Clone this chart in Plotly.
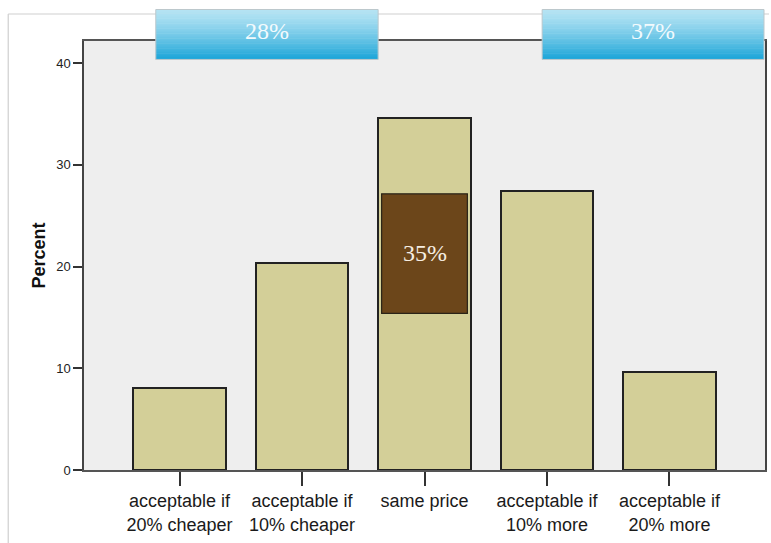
import plotly.graph_objects as go

# Price acceptability survey: share of respondents per answer
categories = ["acceptable if<br>20% cheaper", "acceptable if<br>10% cheaper", "same price",
              "acceptable if<br>10% more", "acceptable if<br>20% more"]
percent = [8.1, 20.3, 34.6, 27.4, 9.6]
y_ticks = [0, 10, 20, 30, 40]

cheaper_share = percent[0] + percent[1]
same_share = percent[2]
more_share = percent[3] + percent[4]

W, H = 771, 543
L, R, T, B = 84, 4, 41, 73
pw, ph = W - L - R, H - T - B


def px_x(x):
    return (x - L) / pw


def px_y(y):
    return (H - B - y) / ph


xs = list(range(len(categories)))

fig = go.Figure()
fig.add_trace(go.Bar(
    x=xs, y=percent, width=0.757,
    marker=dict(color="#D3CF98", line=dict(color="#222222", width=2)),
    hoverinfo="skip", showlegend=False,
))

shapes = []
annotations = []

# outer light frame
shapes.append(dict(type="line", xref="paper", yref="paper", x0=px_x(8), x1=px_x(8),
                   y0=px_y(14), y1=px_y(560), line=dict(color="#CFCFCF", width=1.2)))
shapes.append(dict(type="line", xref="paper", yref="paper", x0=px_x(8), x1=px_x(771),
                   y0=px_y(14), y1=px_y(14), line=dict(color="#CFCFCF", width=1.2)))


def lerp(c0, c1, t):
    return "rgb({},{},{})".format(*[round(a + (b - a) * t) for a, b in zip(c0, c1)])


def gradient_box(x0, x1, y0, y1, text):
    top_c, bot_c = (180, 227, 243), (27, 165, 216)
    n = 40
    for i in range(n):
        ya = y0 + (y1 - y0) * i / n
        yb = y0 + (y1 - y0) * (i + 1) / n + 0.4
        t = i / (n - 1)
        # lighter band holds longer near the top
        t = t ** 1.3
        shapes.append(dict(type="rect", xref="paper", yref="paper", layer="above",
                           x0=px_x(x0), x1=px_x(x1), y0=px_y(ya), y1=px_y(min(yb, y1)),
                           fillcolor=lerp(top_c, bot_c, t), line=dict(width=0)))
    shapes.append(dict(type="rect", xref="paper", yref="paper", layer="above",
                       x0=px_x(x0), x1=px_x(x1), y0=px_y(y0), y1=px_y(y1),
                       fillcolor="rgba(0,0,0,0)", line=dict(color="#BCC8CC", width=1)))
    annotations.append(dict(xref="paper", yref="paper", x=px_x((x0 + x1) / 2), y=px_y(31),
                            text=text, showarrow=False, xanchor="center", yanchor="middle",
                            font=dict(family="Liberation Serif", size=24, color="#F2FAFD")))


gradient_box(156, 379, 9.5, 59.5, f"{cheaper_share:.0f}%")
gradient_box(543.5, 766, 9.5, 59.5, f"{more_share:.0f}%")

# highlight box on the middle bar
shapes.append(dict(type="rect", xref="x", yref="y", layer="above",
                   x0=2 - 0.35, x1=2 + 0.35, y0=15.4, y1=27.15,
                   fillcolor="#6C461A", line=dict(color="#2A2418", width=1.2)))
annotations.append(dict(xref="x", yref="y", x=2, y=21.3, text=f"{same_share:.0f}%",
                        showarrow=False, xanchor="center", yanchor="middle",
                        font=dict(family="Liberation Serif", size=24, color="#F6EEE2")))

fig.update_layout(
    width=W, height=H,
    margin=dict(l=L, r=R, t=T, b=B, pad=0),
    paper_bgcolor="white", plot_bgcolor="#EEEEEE",
    shapes=shapes, annotations=annotations,
    bargap=0,
)
fig.update_xaxes(
    range=[-0.78, 4.78], tickmode="array", tickvals=xs, ticktext=categories,
    ticks="outside", ticklen=14, tickwidth=1.5, tickcolor="#333333",
    showline=True, linecolor="#555555", linewidth=1.5, mirror=True,
    showgrid=False, zeroline=False,
    tickfont=dict(family="Liberation Sans, Arial", size=18, color="#1A1A1A"),
)
fig.update_yaxes(
    range=[0, 42.17], tickmode="array", tickvals=y_ticks,
    ticks="outside", ticklen=9, tickwidth=1.5, tickcolor="#333333",
    showline=True, linecolor="#444444", linewidth=1.5, mirror=True,
    showgrid=False, zeroline=False,
    tickfont=dict(family="Liberation Sans, Arial", size=13, color="#222222"),
    title=dict(text="<b>Percent</b>", standoff=6,
               font=dict(family="Liberation Sans, Arial", size=18, color="#111111")),
)

fig.write_html("out.html")
